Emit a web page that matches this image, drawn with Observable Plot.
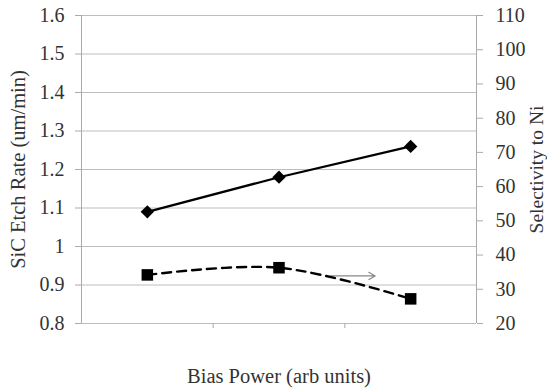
<!DOCTYPE html>
<html>
<head>
<meta charset="utf-8">
<script src="https://cdn.jsdelivr.net/npm/d3@7"></script>
<script src="https://cdn.jsdelivr.net/npm/@observablehq/plot@0.6"></script>
<style>
  html, body { margin: 0; padding: 0; background: #fff; }
  svg { display: block; }
  svg text { font-family: 'Liberation Serif', serif !important; }
</style>
</head>
<body>
<div id="chart"></div>
<script>
// ---- data ----
const biasPower = [1, 2, 3];               // category positions (no labels shown)
const etchRate = [1.09, 1.18, 1.26];       // SiC Etch Rate (um/min), left axis
const selectivity = [34.2, 36.3, 27.2];    // Selectivity to Ni, right axis
const leftTicks = [0.8, 0.9, 1, 1.1, 1.2, 1.3, 1.4, 1.5, 1.6];
const rightTicks = [20, 30, 40, 50, 60, 70, 80, 90, 100, 110];
const categoryBoundaries = [1.5, 2.5];
const arrowNote = [{x1: 2.39, x2: 2.73, s: 33.9}];  // arrow pointing to right axis

// map right-axis values onto the left scale
const lDom = [0.8, 1.6], rDom = [20, 110];
const toLeft = s => lDom[0] + (s - rDom[0]) / (rDom[1] - rDom[0]) * (lDom[1] - lDom[0]);
const fromLeft = v => rDom[0] + (v - lDom[0]) / (lDom[1] - lDom[0]) * (rDom[1] - rDom[0]);

const rateData = biasPower.map((x, i) => ({x, y: etchRate[i]}));
const selData = biasPower.map((x, i) => ({x, y: toLeft(selectivity[i])}));

const chart = Plot.plot({
  width: 547,
  height: 390,
  marginLeft: 81,
  marginRight: 71,
  marginTop: 15,
  marginBottom: 67,
  style: {fontFamily: "'Liberation Serif', serif", fontSize: "20px", color: "#333", background: "#fff"},
  x: {domain: [0.5, 3.5]},
  y: {domain: lDom},
  marks: [
    Plot.gridY(leftTicks, {stroke: "#bdbdbd", strokeOpacity: 1, strokeWidth: 1}),
    Plot.ruleX([0.5, 3.5], {stroke: "#aaa", strokeWidth: 1}),
    // x ticks (category boundaries) and title
    Plot.axisX({ticks: categoryBoundaries, tickFormat: () => "", tickSize: 5, stroke: "#aaa", label: null}),
    Plot.axisX({ticks: [], label: "Bias Power (arb units)", labelAnchor: "center", labelArrow: "none",
      labelOffset: 59, fontSize: 20.5}),
    // left axis
    Plot.axisY({anchor: "left", ticks: leftTicks, tickFormat: d => String(d), tickSize: 6, tickPadding: 11,
      stroke: "#aaa", label: null, fontSize: 20}),
    Plot.axisY({anchor: "left", ticks: [], label: "SiC Etch Rate (um/min)", labelAnchor: "center", labelArrow: "none",
      labelOffset: 71, fontSize: 20.5}),
    // right axis (selectivity)
    Plot.axisY({anchor: "right", ticks: rightTicks.map(toLeft), tickFormat: d => String(Math.round(fromLeft(d))),
      tickSize: 6, tickPadding: 13, stroke: "#aaa", label: null, fontSize: 20}),
    Plot.axisY({anchor: "right", ticks: [], label: "Selectivity to Ni", labelAnchor: "center", labelArrow: "none",
      labelOffset: 66, fontSize: 19.5}),
    Plot.arrow(arrowNote, {x1: "x1", x2: "x2", y1: d => toLeft(d.s), y2: d => toLeft(d.s), stroke: "#888", strokeWidth: 1.2, headLength: 9}),
    Plot.line(rateData, {x: "x", y: "y", stroke: "#000", strokeWidth: 2.2}),
    Plot.dot(rateData, {x: "x", y: "y", symbol: "diamond2", r: 6, fill: "#000", stroke: "none"}),
    Plot.line(selData, {x: "x", y: "y", stroke: "#000", strokeWidth: 2.4, strokeDasharray: "9,6", curve: "catmull-rom"}),
    Plot.dot(selData, {x: "x", y: "y", symbol: "square", r: 6.5, fill: "#000", stroke: "none"})
  ]
});
document.getElementById("chart").appendChild(chart);
</script>
</body>
</html>
